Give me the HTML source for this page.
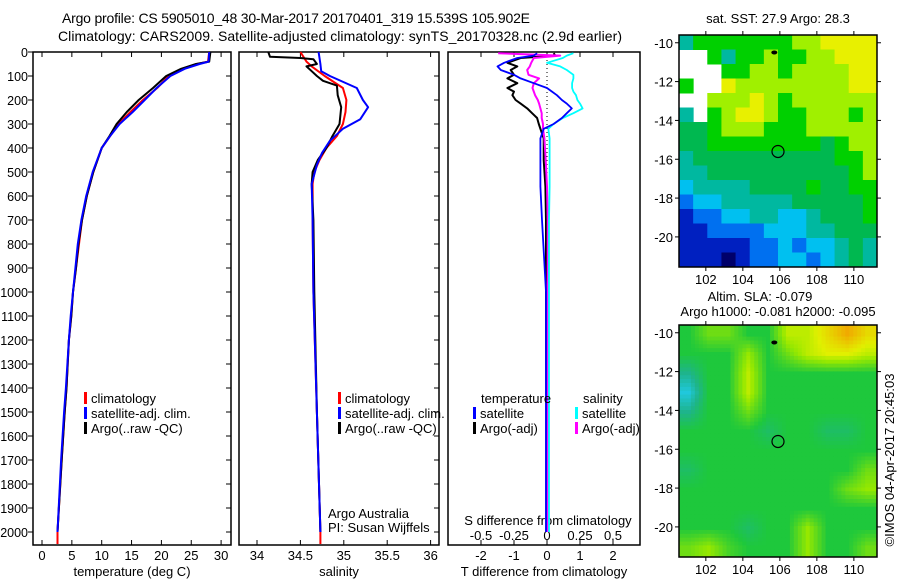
<!DOCTYPE html>
<html><head><meta charset="utf-8"><style>
html,body{margin:0;padding:0;background:#fff}
svg{display:block;font-family:"Liberation Sans",sans-serif}
text{font-size:13px;fill:#000}
.title{font-size:14px}
.dl{font-size:12.5px}
</style></head><body>
<svg id="chart" width="900" height="580" viewBox="0 0 900 580">
<text class="title" x="62" y="23" textLength="468">Argo profile: CS 5905010_48 30-Mar-2017 20170401_319 15.539S 105.902E</text>
<text class="title" x="58" y="41" textLength="564">Climatology: CARS2009. Satellite-adjusted climatology: synTS_20170328.nc (2.9d earlier)</text>
<g id="p1"></g>
<g id="p2"></g>
<g id="p3"></g>
<g id="m1"></g>
<g id="m2"></g>
<text x="0" y="0" transform="translate(894,460) rotate(-90)" text-anchor="middle">©IMOS 04-Apr-2017 20:45:03</text>
</svg>
<script>
// ---------- data ----------
const depthTicks=[0,100,200,300,400,500,600,700,800,900,1000,1100,1200,1300,1400,1500,1600,1700,1800,1900,2000];
const tTicks=[0,5,10,15,20,25,30];
const sTicks=[34,34.5,35,35.5,36];
const sTickLabels=["34","34.5","35","35.5","36"];
const dtTicks=[-2,-1,0,1,2];
const dsTicks=[-0.5,-0.25,0,0.25,0.5];
const dsTickLabels=["-0.5","-0.25","0","0.25","0.5"];

const tDepth=[0,40,50,70,100,150,200,250,300,350,400,500,600,700,800,900,1000,1100,1200,1400,1500,1700,2000];
const tClim=[28,27.8,26,23.6,21.2,19.3,16.9,14.8,12.8,11.4,10,8.6,7.5,6.7,6.2,5.7,5.2,4.9,4.5,4.1,3.8,3.3,2.6];
const tSat=[28,27.9,26.4,23.9,21.5,19.2,17.2,15.2,13,11.4,10,8.5,7.4,6.6,6.0,5.6,5.2,4.8,4.5,4.0,3.7,3.2,2.6];
const tArgo=[28.2,28,25.8,23.3,20.8,18.6,16.2,14.2,12.5,11.3,10,8.6,7.5,6.7,6.1,5.7,5.2,4.9,4.5,4.1,3.8,3.3,2.6];
const tClimDeep=[2050];

const sClimDepth=[0,40,60,100,150,200,250,300,350,400,450,500,550,700,1000,1500,2000,2050];
const sClim=[34.5,34.57,34.63,34.78,34.99,35.03,35.02,34.99,34.92,34.80,34.72,34.66,34.64,34.64,34.65,34.69,34.73,34.73];
const sSatDepth=[0,50,80,100,150,200,230,280,320,370,420,470,550,700,1000,1500,2000];
const sSat=[34.71,34.73,34.74,34.84,35.15,35.22,35.28,35.19,34.99,34.84,34.75,34.69,34.63,34.64,34.65,34.69,34.73];
const sArgoDepth=[0,20,25,30,50,60,80,100,120,140,180,230,300,350,400,450,500,550,700,1000,1500,2000];
const sArgo=[34.13,34.15,34.5,34.65,34.69,34.57,34.63,34.69,34.76,34.92,34.93,34.97,34.95,34.87,34.80,34.70,34.64,34.63,34.65,34.66,34.69,34.73];

const dDepth=[5,15,25,45,60,75,95,110,130,150,165,180,200,215,235,255,275,300,320,360,450,560,700,1000,1500,2000];
const dtArgo=[0.2,0.25,-0.8,-1.2,-0.9,-1.1,-1.0,-1.2,-0.9,-1.2,-1.0,-1.05,-0.95,-0.8,-0.6,-0.45,-0.3,-0.25,-0.2,-0.1,-0.1,-0.05,-0.03,-0.03,-0.02,-0.02];
const dtSat=[-0.3,-0.4,-0.9,-1.3,-1.5,-1.4,-1.0,-0.8,-0.4,0,0.15,0.3,0.45,0.6,0.75,0.6,0.45,0.2,-0.1,-0.2,-0.2,-0.2,-0.15,-0.03,-0.03,-0.03];
const dsArgo=[-0.37,0.1,-0.1,-0.12,-0.13,-0.15,-0.14,-0.06,-0.1,-0.11,-0.1,-0.09,-0.07,-0.06,-0.05,-0.04,-0.04,-0.03,-0.03,-0.02,-0.01,0,0.005,0.005,0.005,0.005];
const dsSat=[0.2,0.15,0.12,0.0,0.1,0.15,0.2,0.2,0.19,0.19,0.2,0.22,0.23,0.25,0.27,0.2,0.12,0.05,0.01,0.02,0.02,0.02,0.015,0.015,0.015,0.015];

// SST map grid (index 0 navy .. 9 orange, null = no data)
const sstLon=[100.55,111.25], sstLat=[-9.6,-21.55];
const sstGrid=[
[4,6,6,6,6,6,6,6,7,7,8,8,8,8],
[null,null,6,4,6,6,7,6,6,7,7,8,8,8],
[null,null,null,6,6,7,7,6,7,7,7,7,8,8],
[6,null,null,8,7,7,7,7,7,7,7,7,8,8],
[null,null,7,7,7,8,7,6,7,7,7,7,7,7],
[4,null,6,7,8,8,7,6,6,7,7,7,6,7],
[5,5,6,7,7,7,6,6,6,7,7,7,7,7],
[5,5,6,6,6,6,6,6,6,6,5,6,7,7],
[4,5,5,5,5,5,5,5,5,5,5,6,6,7],
[4,4,5,5,5,5,5,5,5,5,5,5,6,7],
[3,4,4,4,4,5,5,5,5,6,5,5,6,6],
[2,3,3,4,4,4,4,4,5,5,5,5,5,6],
[1,2,2,3,3,4,4,3,3,4,5,5,5,6],
[1,1,2,2,2,2,3,3,3,4,4,5,5,5],
[1,1,1,1,1,2,2,3,2,3,3,4,5,4],
[1,1,1,0,1,2,2,3,3,2,3,4,5,4]];
const slaGrid=[
[5,6,6,5,5,7,7,8,9,8],
[5,5,5,6.5,5,6,7,7.5,7.5,7],
[4,5,5,7,5,5,5,5,5,5],
[3,5,5,7,5,5,5,5,5,5],
[4,5,5,6,5,5,5,5,5,5],
[5,5,5,5,4.5,5,5,4.5,4.5,5],
[5,5,5,5,5,5,5,5,5,5],
[4.5,5,5,5,5,5,5,5,5,6],
[5,5,5,5,5,5,5,5,6,6.5],
[5,5,5,5,5,5,5,5,5,5],
[5,5,5,4.5,5,5,6.5,5,5,5],
[6,6.5,5.5,5,5,5,6.5,5,5,6]];
const mapLonTicks=[102,104,106,108,110];
const mapLatTicks=[-10,-12,-14,-16,-18,-20];
const argoPos=[105.9,-15.6], prevPos=[105.7,-10.5];

// ---------- helpers ----------
const NS="http://www.w3.org/2000/svg";
function mk(parent,tag,attrs){const e=document.createElementNS(NS,tag);for(const k in attrs)e.setAttribute(k,attrs[k]);parent.appendChild(e);return e;}
const yTop=52,yBot=545;
const yD=d=>yTop+d*0.24;
function txt(p,x,y,s,anchor){const t=mk(p,"text",{x:x,y:y,"text-anchor":anchor||"start"});t.textContent=s;return t;}

function panel(g,x0,x1){
  const r=mk(g,"rect",{x:x0,y:yTop,width:x1-x0,height:yBot-yTop,fill:"none",stroke:"#000","stroke-width":1.5});
  
  
}
function line(g,xs,ds,sx,color,w,name){
  const pts=xs.map((v,i)=>sx(v).toFixed(1)+","+yD(ds[i]).toFixed(1)).join(" ");
  const pl=mk(g,"polyline",{points:pts,fill:"none",stroke:color,"stroke-width":w,"stroke-linejoin":"round"});
  
  
}
function xAxis(g,ticks,labels,sx,x0,x1,title,top){
  ticks.forEach((t,i)=>{
    const x=sx(t);
    mk(g,"line",{x1:x,x2:x,y1:yBot,y2:yBot-5,stroke:"#000"});
    if(top) mk(g,"line",{x1:x,x2:x,y1:yTop,y2:yTop+5,stroke:"#000"});
    const l=txt(g,x,560,labels[i],"middle");
    
    
  });
  const tt=txt(g,(x0+x1)/2,576,title,"middle");
  
  
}
function legendEntry(g,x,y,color,label){
  mk(g,"rect",{x:x,y:y-6,width:3,height:12,fill:color});
  const t=txt(g,x+7,y+5,label);
  
  
}

// ---------- panel 1: temperature ----------
const p1=document.getElementById("p1");
const sxT=t=>42+t*5.97;
panel(p1,33,231);
depthTicks.forEach(d=>{
  mk(p1,"line",{x1:28,x2:33,y1:yD(d),y2:yD(d),stroke:"#000"});
  mk(p1,"line",{x1:226,x2:231,y1:yD(d),y2:yD(d),stroke:"#000"});
  const l=txt(p1,28,yD(d)+5,String(d),"end");
  l.setAttribute('class','dl');
  
  
});
xAxis(p1,tTicks,tTicks.map(String),sxT,33,231,"temperature (deg C)",true);
line(p1,tClim.concat([tClim[tClim.length-1]]),tDepth.concat(tClimDeep),sxT,"#f00",2,"temp-climatology-line");
line(p1,tArgo,tDepth,sxT,"#000",2,"temp-argo-line");
line(p1,tSat,tDepth,sxT,"#00f",2,"temp-satellite-line");
legendEntry(p1,84,398,"#f00","climatology");
legendEntry(p1,84,413,"#00f","satellite-adj. clim.");
legendEntry(p1,84,428,"#000","Argo(..raw -QC)");

// ---------- panel 2: salinity ----------
const p2=document.getElementById("p2");
const sxS=s=>257+(s-34)*86.8;
panel(p2,239,439);
depthTicks.forEach(d=>{mk(p2,"line",{x1:434,x2:439,y1:yD(d),y2:yD(d),stroke:"#000"});});
xAxis(p2,sTicks,sTickLabels,sxS,239,439,"salinity",true);
line(p2,sClim,sClimDepth,sxS,"#f00",2,"sal-climatology-line");
line(p2,sArgo,sArgoDepth,sxS,"#000",2,"sal-argo-line");
line(p2,sSat,sSatDepth,sxS,"#00f",2,"sal-satellite-line");
legendEntry(p2,338,398,"#f00","climatology");
legendEntry(p2,338,413,"#00f","satellite-adj. clim.");
legendEntry(p2,338,428,"#000","Argo(..raw -QC)");
let a1=txt(p2,328,518,"Argo Australia");


let a2=txt(p2,328,532,"PI: Susan Wijffels");



// ---------- panel 3: differences ----------
const p3=document.getElementById("p3");
const sxDT=v=>547+v*33;
const sxDS=v=>547+v*132;
panel(p3,448,640);
xAxis(p3,dtTicks,dtTicks.map(String),sxDT,448,640,"T difference from climatology",true);
mk(p3,"line",{x1:547,x2:547,y1:yTop,y2:yD(2000),stroke:"#000","stroke-dasharray":"1,3"});
dsTicks.forEach((t,i)=>{
  const l=txt(p3,sxDS(t),540,dsTickLabels[i],"middle");
  
  
});
let sdt=txt(p3,548,525,"S difference from climatology","middle");


line(p3,dtArgo,dDepth,sxDT,"#000",2,"tdiff-argo-line");
line(p3,dsArgo,dDepth,sxDS,"#f0f",2,"sdiff-argo-line");
line(p3,dsSat,dDepth,sxDS,"#0ff",1.8,"sdiff-satellite-line");
line(p3,dtSat,dDepth,sxDT,"#00f",1.8,"tdiff-satellite-line");
let th=txt(p3,481,403,"temperature");
let sh=txt(p3,583,403,"salinity");
legendEntry(p3,473,413,"#00f","satellite");
legendEntry(p3,473,428,"#000","Argo(-adj)");
legendEntry(p3,575,413,"#0ff","satellite");
legendEntry(p3,575,428,"#f0f","Argo(-adj)");

// ---------- maps ----------
const sstColors=["#00006a","#0020c0","#0070f0","#00c0f0","#00b8a0","#00b850","#00d000","#a0f000","#e8f000","#f0b000"];
const slaStops=[[3,[32,200,220]],[4,[30,180,140]],[5,[30,200,60]],[6.5,[150,232,0]],[7.5,[225,240,0]],[9,[240,170,0]]];
function slaColor(v){
  if(v<=slaStops[0][0])return "rgb("+slaStops[0][1]+")";
  for(let i=1;i<slaStops.length;i++){if(v<=slaStops[i][0]){const a=slaStops[i-1],b=slaStops[i],f=(v-a[0])/(b[0]-a[0]);return "rgb("+a[1].map((c,k)=>Math.round(c+(b[1][k]-c)*f)).join(",")+")";}}
  return "rgb("+slaStops[slaStops.length-1][1]+")";
}
function mapFrame(g,top){
  const x0=679,x1=877,y0=top,y1=top+232;
  const lx=lon=>x0+(lon-sstLon[0])/(sstLon[1]-sstLon[0])*(x1-x0);
  const ly=lat=>y0+(lat-sstLat[0])/(sstLat[1]-sstLat[0])*(y1-y0);
  return {x0,x1,y0,y1,lx,ly};
}
function mapAxes(g,f){
  const r=mk(g,"rect",{x:f.x0,y:f.y0,width:f.x1-f.x0,height:f.y1-f.y0,fill:"none",stroke:"#000","stroke-width":1.5});
  
  
  mapLonTicks.forEach(l=>{const x=f.lx(l);
    mk(g,"line",{x1:x,x2:x,y1:f.y0-4,y2:f.y0,stroke:"#000"});
    mk(g,"line",{x1:x,x2:x,y1:f.y1,y2:f.y1+4,stroke:"#000"});
    const t=txt(g,x,f.y1+17,String(l),"middle");
    
    });
  mapLatTicks.forEach(l=>{const y=f.ly(l);
    mk(g,"line",{x1:f.x0-4,x2:f.x0,y1:y,y2:y,stroke:"#000"});
    mk(g,"line",{x1:f.x1,x2:f.x1+4,y1:y,y2:y,stroke:"#000"});
    const t=txt(g,f.x0-6,y+5,String(l),"end");
    
    });
  const c=mk(g,"circle",{cx:f.lx(argoPos[0]),cy:f.ly(argoPos[1]),r:6,fill:"none",stroke:"#000","stroke-width":1.2});
  
  
  const p=mk(g,"ellipse",{cx:f.lx(prevPos[0]),cy:f.ly(prevPos[1]),rx:3,ry:2,fill:"#000"});
  
  
}
// SST
const m1=document.getElementById("m1");
const f1=mapFrame(m1,35);
const nr=sstGrid.length,nc=sstGrid[0].length;
const cw=(f1.x1-f1.x0)/nc,ch=(f1.y1-f1.y0)/nr;
sstGrid.forEach((row,i)=>row.forEach((v,j)=>{
  if(v===null)return;
  const c=mk(m1,"rect",{x:(f1.x0+j*cw).toFixed(2),y:(f1.y0+i*ch).toFixed(2),width:(cw+0.5).toFixed(2),height:(ch+0.5).toFixed(2),fill:sstColors[v]});
  
  
}));
mapAxes(m1,f1);
let st=txt(m1,778,23,"sat. SST: 27.9 Argo: 28.3","middle");


// SLA (bilinear-smoothed rendering of grid)
const m2=document.getElementById("m2");
const f2=mapFrame(m2,325);
const R=slaGrid.length,C=slaGrid[0].length,sub=5;
const cw2=(f2.x1-f2.x0)/(C*sub),ch2=(f2.y1-f2.y0)/(R*sub);
for(let i=0;i<R*sub;i++)for(let j=0;j<C*sub;j++){
  const gy=Math.min(Math.max((i+0.5)/sub-0.5,0),R-1),gx=Math.min(Math.max((j+0.5)/sub-0.5,0),C-1);
  const i0=Math.floor(gy),j0=Math.floor(gx),i1=Math.min(i0+1,R-1),j1=Math.min(j0+1,C-1),fy=gy-i0,fx=gx-j0;
  const v=slaGrid[i0][j0]*(1-fx)*(1-fy)+slaGrid[i0][j1]*fx*(1-fy)+slaGrid[i1][j0]*(1-fx)*fy+slaGrid[i1][j1]*fx*fy;
  const c=mk(m2,"rect",{x:(f2.x0+j*cw2).toFixed(2),y:(f2.y0+i*ch2).toFixed(2),width:(cw2+0.5).toFixed(2),height:(ch2+0.5).toFixed(2),fill:slaColor(v)});
  
  
}
mapAxes(m2,f2);
let s1=txt(m2,760,301,"Altim. SLA: -0.079","middle");


let s2=txt(m2,778,316,"Argo h1000: -0.081 h2000: -0.095","middle");


</script>
</body></html>
